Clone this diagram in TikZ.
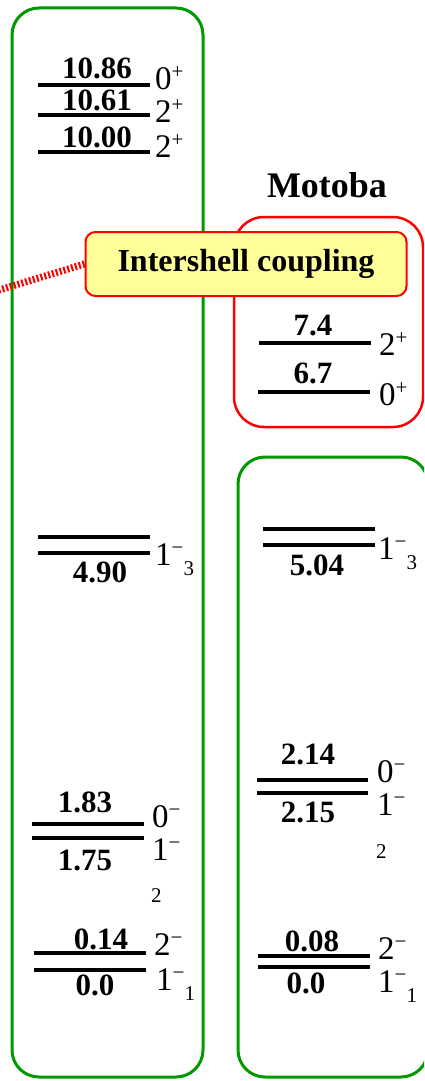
\documentclass[tikz,border=0pt]{standalone}
\usepackage{fontspec}
\setmainfont{Liberation Serif}
\definecolor{boxgreen}{RGB}{0,153,0}
\definecolor{notefill}{RGB}{255,255,153}
\newcommand\jpi[3]{#1\raisebox{11pt}{\fontsize{21}{21}\selectfont#2}\raisebox{-10pt}{\fontsize{21}{21}\selectfont#3}}
\tikzset{>=latex}

\begin{document}
\begin{tikzpicture}[x=1pt,y=-1pt,
    lvl/.style={line width=4pt},
    ebox/.style={draw=boxgreen,line width=3pt,rounded corners=27pt},
    num/.style={anchor=base,inner sep=0pt,font=\fontsize{31}{31}\selectfont\bfseries},
    jp/.style={anchor=base west,inner sep=0pt,font=\fontsize{33}{33}\selectfont},
    sub/.style={anchor=base west,inner sep=0pt,font=\fontsize{21}{21}\selectfont}]
  \useasboundingbox (0,0) rectangle (424,1081);
  \clip (0,0) rectangle (424,1081);
  \draw[ebox] (12,8) rectangle (203,1077); % experiment
  \draw[ebox] (238,457) rectangle (428,1077); % calculation
  \draw[red,line width=2.5pt,rounded corners=30pt] (234,217) rectangle (423,427); % intershell states
  \node[anchor=base,inner sep=0pt,font=\fontsize{36}{36}\selectfont\bfseries] (motoba) at (327,197) {Motoba};
  \foreach \xa/\xb/\y in {38/150/85,38/150/115,38/150/152,38/150/537,38/150/553,
      32/144/824,32/144/838,34/146/953,34/146/970, % left levels
      259/371/343,258/370/392,263/375/529,263/375/545,
      257/368/780,257/368/793,258/370/956,258/370/967} % right levels
    \draw[lvl] (\xa,\y) -- (\xb,\y);
  \foreach \n/\x/\y/\e in {a/97/78/10.86,b/97/110/10.61,c/97/147/10.00,d/100/582/4.90,
      e/85/812/1.83,f/85/870/1.75,g/101/949/0.14,h/95/995/0.0,
      i/313/335/7.4,j/313/383/6.7,k/317/575/5.04,l/308/764/2.14,
      m/308/822/2.15,n/312/951/0.08,o/306/993/0.0} % energies in MeV
    \node[num] (e\n) at (\x,\y) {\e};
  \foreach \n/\x/\y/\j in {a/155/89/{\jpi{0}{+}{}},b/155/122/{\jpi{2}{+}{}},c/155/157/{\jpi{2}{+}{}},
      d/155/565/{\jpi{1}{−}{3}},e/152/827/{\jpi{0}{−}{}},f/152/860/{\jpi{1}{−}{}},
      g/154/955/{\jpi{2}{−}{}},h/156/990/{\jpi{1}{−}{1}},
      i/379/355/{\jpi{2}{+}{}},j/379/405/{\jpi{0}{+}{}},k/378/559/{\jpi{1}{−}{3}},
      l/377/782/{\jpi{0}{−}{}},m/377/815/{\jpi{1}{−}{}},
      n/378/959/{\jpi{2}{−}{}},o/378/992/{\jpi{1}{−}{1}}} % spin-parity
    \node[jp] (j\n) at (\x,\y) {\j};
  \node[sub] (sf) at (151,902) {2};
  \node[sub] (sm) at (376,858) {2};
  \coordinate (tip) at (-4,291);
  \node[draw=red,line width=2pt,fill=notefill,rounded corners=10pt,minimum width=321pt,
    minimum height=64pt,font=\fontsize{32}{32}\selectfont\bfseries] (note) at (246,264) {Intershell coupling};
  \draw[red,line width=7pt,dash pattern=on 2pt off 2pt] (note.west) -- (tip); % callout pointer
\end{tikzpicture}
\end{document}
